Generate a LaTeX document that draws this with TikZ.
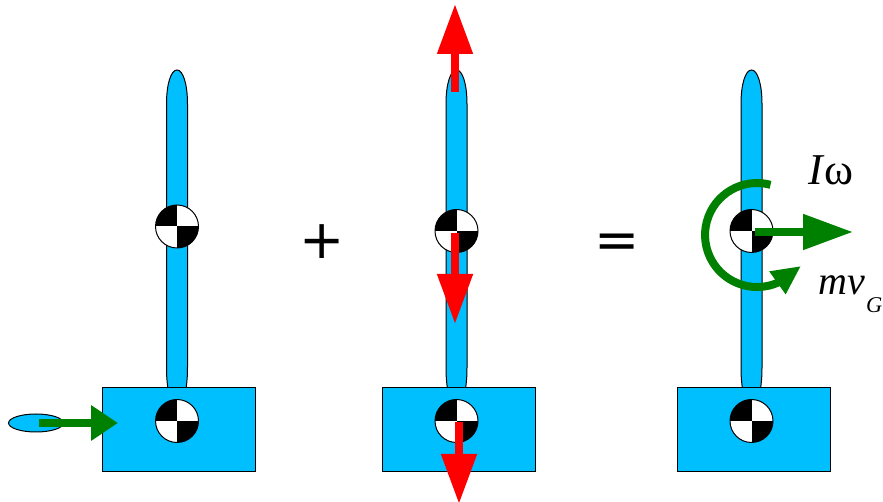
\documentclass[tikz,border=0pt]{standalone}
\usepackage{fontspec}
\setmainfont{Liberation Serif}
\newfontfamily\signfont{DejaVu Sans}
\usetikzlibrary{arrows.meta,shapes.geometric}
\definecolor{bodyblue}{RGB}{0,191,255}
\definecolor{pushgreen}{RGB}{0,128,0}
\begin{document}
\begin{tikzpicture}[x=1pt,y=1pt,line width=1pt,
  body/.style={draw=black,fill=bodyblue,minimum width=153pt,minimum height=84pt,inner sep=0pt},
  puck/.style={ellipse,draw=black,fill=bodyblue,minimum width=55pt,minimum height=18pt,inner sep=0pt},
  cog/.style={circle,draw=black,fill=white,minimum size=43pt,inner sep=0pt,
    path picture={
      \fill[black] (path picture bounding box.center) rectangle (path picture bounding box.north west);
      \fill[black] (path picture bounding box.center) rectangle (path picture bounding box.south east);}},
  rod/.pic={\draw[draw=black,fill=bodyblue] (-9,100) -- (-9,113)
    .. controls (-10,120) and (-10.5,126) .. (-10.5,135)
    -- (-10.5,398) .. controls (-10.5,418) and (-6,432) .. (0,432)
    .. controls (6,432) and (10.5,418) .. (10.5,398) -- (10.5,135)
    .. controls (10.5,126) and (10,120) .. (9,113) -- (9,100) -- cycle;},
  greenarrow/.style={draw=pushgreen,line width=8pt,-{Triangle[length=#1,width=34pt,fill=pushgreen]}},
  spinarrow/.style={draw=pushgreen,line width=8pt,-{Triangle[length=29pt,width=26pt,fill=pushgreen]}},
  redarrow/.style={draw=red,line width=8pt,-{Triangle[length=50pt,width=34pt,fill=red]}},
  sign/.style={font=\signfont\fontsize{54}{54}\selectfont,inner sep=0pt,anchor=base},
  eqn/.style={font=\fontsize{40}{40}\selectfont,anchor=base west,inner sep=0pt}]
  \useasboundingbox (0,0) rectangle (883,502);
  % first figure
  \pic at (177,0) {rod};
  \node[body] (body1) at (179,72) {};
  \node[cog] (cog1) at (177,275.5) {};
  \node[cog] (cogb1) at (177,81) {};
  \node[puck] (puck) at (36,79) {};
  \coordinate (kick) at (118,79);
  \draw[greenarrow=27pt] (39,79) -- (kick);
  % second figure
  \node[sign] (plus) at (322,243) {+};
  \pic at (456.5,0) {rod};
  \node[body] (body2) at (459,72) {};
  \node[cog] (cog2) at (456.5,271) {};
  \node[cog] (cogb2) at (456.5,81) {};
  \coordinate (up) at (455,498);
  \coordinate (down) at (455,178);
  \coordinate (downb) at (459,-2);
  \draw[redarrow] (455,410) -- (up);
  \draw[redarrow] (455,269) -- (down);
  \draw[redarrow] (459,80) -- (downb);
  % third figure
  \node[sign] (equals) at (617,243) {=};
  \pic at (751.5,0) {rod};
  \node[body] (body3) at (753.5,72) {};
  \node[cog] (cog3) at (751.5,271) {};
  \node[cog] (cogb3) at (751.5,81) {};
  \coordinate (spin) at (801,236);
  \coordinate (slide) at (853,270);
  \draw[spinarrow] (770.5,317.2) arc[start angle=75,end angle=293,radius=52] -- (spin);
  \draw[greenarrow=50pt] (755,270) -- (slide);
  \node[eqn,font=\fontsize{44}{44}\selectfont] (iw) at (808,317) {\textit{I}ω};
  \node[eqn] (mv) at (818,207) {\textit{mv}\raisebox{-18pt}{\fontsize{22.5}{25}\selectfont\kern1pt\textit{G}}};
\end{tikzpicture}
\end{document}
